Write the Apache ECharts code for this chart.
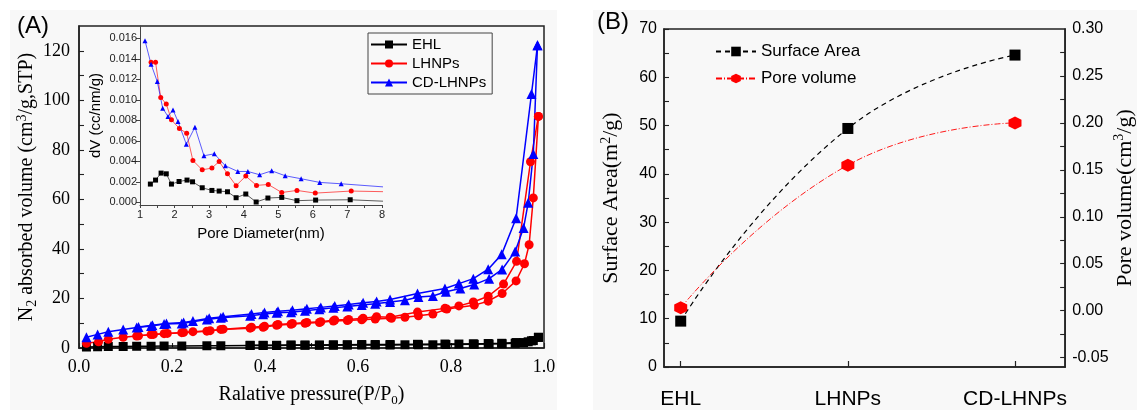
<!DOCTYPE html>
<html lang="en">
<head>
<meta charset="UTF-8">
<title>N2 isotherms and pore data</title>
<style>
  body { margin: 0; background: #fff; }
  #chart { width: 1137px; height: 412px; }
</style>
</head>
<body>
<div id="chart"></div>
<script src="https://cdn.jsdelivr.net/npm/echarts@6/dist/echarts.min.js"></script>
<script>
// ---- (A) main panel: isotherms, [P/P0, volume] ----
var ehlAds = [[0.016,0.4],[0.040,0.5],[0.063,0.6],[0.095,0.6],[0.124,0.7],[0.155,0.7],[0.183,0.8],[0.221,0.8],[0.275,0.9],[0.305,0.9],[0.368,1.0],[0.396,1.0],[0.425,1.0],[0.456,1.1],[0.486,1.1],[0.517,1.1],[0.547,1.1],[0.577,1.2],[0.608,1.2],[0.637,1.2],[0.669,1.2],[0.701,1.3],[0.730,1.3],[0.761,1.3],[0.789,1.4],[0.850,1.5],[0.882,1.6],[0.910,1.7],[0.938,1.9],[0.956,2.2],[0.966,2.5],[0.977,3.0],[0.988,4.3]];
var ehlDes = [[0.988,4.3],[0.973,2.9],[0.940,2.2],[0.909,1.9],[0.880,1.8],[0.848,1.7],[0.817,1.6],[0.787,1.6],[0.728,1.5],[0.669,1.4],[0.637,1.4],[0.608,1.4],[0.577,1.3],[0.547,1.3],[0.517,1.2],[0.486,1.2],[0.456,1.2],[0.425,1.1],[0.396,1.1],[0.368,1.1]];
var lhnpAds = [[0.016,1.9],[0.042,2.5],[0.063,3.5],[0.095,4.3],[0.124,4.8],[0.155,5.4],[0.183,5.8],[0.221,6.2],[0.275,6.8],[0.305,7.5],[0.368,8.0],[0.396,8.4],[0.425,9.2],[0.456,9.6],[0.486,10.0],[0.517,10.3],[0.547,10.9],[0.577,11.1],[0.608,11.4],[0.637,11.7],[0.672,12.0],[0.701,12.4],[0.730,13.0],[0.761,13.7],[0.791,15.7],[0.850,17.3],[0.880,18.9],[0.910,22.0],[0.940,27.1],[0.958,34.0],[0.968,41.7],[0.977,60.6],[0.988,93.5]];
var lhnpDes = [[0.988,93.5],[0.971,75.2],[0.941,35.0],[0.913,25.8],[0.880,20.9],[0.848,18.6],[0.817,17.0],[0.787,16.0],[0.728,14.5],[0.669,12.4],[0.640,12.6],[0.611,12.0],[0.580,11.5],[0.550,11.3],[0.520,10.6],[0.490,10.3],[0.459,9.9],[0.428,9.5],[0.399,8.8],[0.371,8.4],[0.310,7.6],[0.282,7.0],[0.245,6.6],[0.225,6.3],[0.190,5.9],[0.160,5.5],[0.128,4.9]];
var cdAds = [[0.016,4.3],[0.040,5.5],[0.063,6.6],[0.095,7.5],[0.124,8.3],[0.155,8.9],[0.183,9.7],[0.221,9.9],[0.275,11.5],[0.305,12.2],[0.368,13.0],[0.396,13.6],[0.425,14.2],[0.456,14.4],[0.486,15.0],[0.517,15.6],[0.547,16.2],[0.577,16.8],[0.608,17.4],[0.637,17.9],[0.669,18.6],[0.701,19.3],[0.730,20.6],[0.761,21.0],[0.789,22.7],[0.820,24.0],[0.850,25.6],[0.882,28.0],[0.910,31.7],[0.938,39.0],[0.956,48.4],[0.966,58.6],[0.977,78.3],[0.986,122.2]];
var cdDes = [[0.986,122.2],[0.973,102.5],[0.940,52.4],[0.909,37.8],[0.880,31.8],[0.848,28.0],[0.817,26.0],[0.787,24.0],[0.728,22.0],[0.669,19.6],[0.640,18.8],[0.611,18.3],[0.580,17.6],[0.550,17.0],[0.520,16.4],[0.490,15.8],[0.459,15.2],[0.428,14.8],[0.399,14.3],[0.371,13.7],[0.310,12.6],[0.280,12.0],[0.245,10.9],[0.225,10.3],[0.188,9.9],[0.158,9.2],[0.128,8.5]];

// ---- (A) inset: pore size distribution, [diameter nm, dV] ----
var ehlPore = [[1.30,0.00179],[1.45,0.00218],[1.61,0.00286],[1.76,0.00279],[1.91,0.00179],[2.13,0.00204],[2.36,0.00218],[2.52,0.00201],[2.80,0.00143],[3.08,0.00117],[3.29,0.00111],[3.53,0.00104],[3.78,0.00046],[4.06,0.00082],[4.36,0.00004],[4.70,0.00043],[5.10,0.00049],[5.54,0.00017],[6.08,0.00023],[7.08,0.00026],[8.3,0.00008]];
var lhnpPore = [[1.32,0.01366],[1.45,0.01366],[1.60,0.01022],[1.76,0.0096],[1.91,0.00805],[2.14,0.0072],[2.35,0.00675],[2.53,0.00409],[2.80,0.00318],[3.08,0.00335],[3.29,0.00399],[3.53,0.00279],[3.78,0.00163],[4.06,0.00257],[4.37,0.00166],[4.71,0.00175],[5.10,0.00097],[5.54,0.00117],[6.07,0.00091],[7.11,0.00111],[8.3,0.00103]];
var cdPore = [[1.145,0.01577],[1.32,0.01347],[1.50,0.01178],[1.656,0.00919],[1.81,0.00837],[1.955,0.00902],[2.10,0.00788],[2.34,0.00568],[2.59,0.00734],[2.85,0.00455],[3.15,0.00474],[3.47,0.00357],[3.83,0.00302],[4.12,0.00302],[4.46,0.0027],[4.81,0.00308],[5.20,0.0026],[5.66,0.00231],[6.20,0.00195],[6.82,0.00182],[8.3,0.00145]];

// ---- (B) surface area / pore volume ----
var samples = ['EHL', 'LHNPs', 'CD-LHNPs'];
var surfaceArea = [9.5, 49.4, 64.6];
var poreVolume = [0.003, 0.155, 0.200];

// tick values (major + minor)
var pressureTicks = [0, 0.1, 0.2, 0.3, 0.4, 0.5, 0.6, 0.7, 0.8, 0.9, 1.0];
var volumeTicks = [0, 10, 20, 30, 40, 50, 60, 70, 80, 90, 100, 110, 120];
var diameterTicks = [1, 1.5, 2, 2.5, 3, 3.5, 4, 4.5, 5, 5.5, 6, 6.5, 7, 7.5, 8];
var dvLabels = [0, 0.002, 0.004, 0.006, 0.008, 0.010, 0.012, 0.014, 0.016];
var areaTicks = [0, 5, 10, 15, 20, 25, 30, 35, 40, 45, 50, 55, 60, 65, 70];
var poreLabels = [-0.05, 0, 0.05, 0.10, 0.15, 0.20, 0.25, 0.30];
var poreTicks = [-0.05, -0.025, 0, 0.025, 0.05, 0.075, 0.10, 0.125, 0.15, 0.175, 0.20, 0.225, 0.25, 0.275];

var serif = 'Liberation Serif';
var sans = 'Liberation Sans';
var frame = '#222';
var hexagon = 'path://M5,0 L9.33,2.5 L9.33,7.5 L5,10 L0.67,7.5 L0.67,2.5 Z';

function axisBase(ticks, extra) {
  var a = {
    axisLine: { show: true, onZero: false, lineStyle: { color: frame, width: 1.5 } },
    axisTick: { show: true, inside: true, length: 5, customValues: ticks, lineStyle: { color: frame, width: 1.1 } },
    minorTick: { show: false },
    splitLine: { show: false }
  };
  for (var k in extra) a[k] = extra[k];
  return a;
}

function pairs(xs, ys) {
  return xs.map(function (x, i) { return [i, ys[i]]; });
}

function isoSeries(name, data, color, symbol) {
  return {
    type: 'line', name: name, xAxisIndex: 0, yAxisIndex: 0, data: data,
    symbol: symbol, symbolSize: symbol === 'triangle' ? 10 : 9,
    lineStyle: { color: color, width: 1.5 },
    itemStyle: { color: color }
  };
}

function poreSeries(name, data, color, symbol) {
  return {
    type: 'line', name: name, xAxisIndex: 1, yAxisIndex: 1, data: data,
    symbol: symbol, symbolSize: 5, clip: true,
    lineStyle: { color: color, width: 0.8, opacity: 0.8 },
    itemStyle: { color: color }
  };
}

var chart = echarts.init(document.getElementById('chart'));

chart.setOption({
  animation: false,
  backgroundColor: '#fff',
  graphic: [
    { type: 'rect', z: -10, shape: { x: 10, y: 10, width: 547, height: 400 }, style: { fill: '#f8f8f8' } },
    { type: 'rect', z: -10, shape: { x: 593, y: 10, width: 544, height: 400 }, style: { fill: '#f8f8f8' } },
    { type: 'text', left: 17, top: 14, style: { text: '(A)', font: '24px "Liberation Sans"', fill: '#000' } },
    { type: 'text', left: 597, top: 10, style: { text: '(B)', font: '24px "Liberation Sans"', fill: '#000' } }
  ],
  legend: [
    {
      data: ['EHL', 'LHNPs', 'CD-LHNPs'],
      orient: 'vertical', left: 368, top: 33,
      padding: [4, 6, 4, 2], itemGap: 4, itemWidth: 36, itemHeight: 10,
      borderColor: '#444', borderWidth: 1, backgroundColor: '#f8f8f8',
      textStyle: { fontFamily: sans, fontSize: 15, color: '#000' }
    },
    {
      data: ['Surface Area', 'Pore volume'],
      orient: 'vertical', left: 710, top: 38,
      itemGap: 10, itemWidth: 40, itemHeight: 12,
      textStyle: { fontFamily: sans, fontSize: 17, color: '#000' }
    }
  ],
  grid: [
    { left: 79, top: 26, width: 465, height: 322, show: true, borderColor: frame, borderWidth: 1.5, backgroundColor: 'transparent' },
    { left: 140, top: 26, width: 242, height: 179 },
    { left: 664, top: 29, width: 405, height: 338, show: true, borderColor: frame, borderWidth: 1.5, backgroundColor: 'transparent' }
  ],
  xAxis: [
    axisBase(pressureTicks, {
      gridIndex: 0, type: 'value', min: 0, max: 1, interval: 0.2,
      axisLabel: { margin: 10, fontFamily: serif, fontSize: 18, color: '#000', formatter: function (v) { return v.toFixed(1); } },
      name: 'Ralative pressure(P/P{sub|0})', nameLocation: 'middle', nameGap: 34,
      nameTextStyle: { fontFamily: serif, fontSize: 20, color: '#000',
        rich: { sub: { fontFamily: serif, fontSize: 13, verticalAlign: 'top', padding: [12, 0, 0, 0] } } }
    }),
    axisBase(diameterTicks, {
      gridIndex: 1, type: 'value', min: 1, max: 8, interval: 1,
      axisLine: { show: true, onZero: false, lineStyle: { color: '#444', width: 1 } },
      axisTick: { show: true, inside: false, length: 3, customValues: diameterTicks, lineStyle: { color: '#444', width: 1 } },
      axisLabel: { margin: 4, fontFamily: sans, fontSize: 11, color: '#222' },
      name: 'Pore Diameter(nm)', nameLocation: 'middle', nameGap: 21,
      nameTextStyle: { fontFamily: sans, fontSize: 15, color: '#000' }
    }),
    axisBase([0, 1, 2], {
      gridIndex: 2, type: 'value', min: -0.1, max: 2.3,
      axisTick: { show: true, inside: true, length: 6, customValues: [0, 1, 2], lineStyle: { color: frame, width: 1.2 } },
      axisLabel: { margin: 22, fontFamily: sans, fontSize: 21, color: '#000', customValues: [0, 1, 2],
        formatter: function (v) { return samples[Math.round(v)]; } }
    })
  ],
  yAxis: [
    axisBase(volumeTicks, {
      gridIndex: 0, type: 'value', min: 0, max: 130, interval: 20,
      axisLabel: { margin: 9, fontFamily: serif, fontSize: 18, color: '#000', showMaxLabel: false },
      name: 'N{sub|2} absorbed volume (cm{sup|3}/g,STP)', nameLocation: 'middle', nameGap: 31, nameRotate: 90,
      nameTextStyle: { fontFamily: serif, fontSize: 20, color: '#000',
        rich: {
          sub: { fontFamily: serif, fontSize: 14, verticalAlign: 'top', padding: [10, 0, 0, 0] },
          sup: { fontFamily: serif, fontSize: 14, verticalAlign: 'bottom', padding: [0, 0, 10, 0] }
        } }
    }),
    axisBase(dvLabels, {
      gridIndex: 1, type: 'value', min: -0.00025, max: 0.0172,
      axisLine: { show: true, onZero: false, lineStyle: { color: '#444', width: 1 } },
      axisTick: { show: true, inside: false, length: 4, customValues: dvLabels, lineStyle: { color: '#444', width: 1 } },
      axisLabel: { margin: 3, fontFamily: sans, fontSize: 11, color: '#222', customValues: dvLabels,
        formatter: function (v) { return v.toFixed(3); } },
      name: 'dV (cc/nm/g)', nameLocation: 'middle', nameGap: 37, nameRotate: 90,
      nameTextStyle: { fontFamily: sans, fontSize: 15, color: '#000' }
    }),
    axisBase(areaTicks, {
      gridIndex: 2, type: 'value', min: 0, max: 70, interval: 10,
      axisLabel: { margin: 7, fontFamily: sans, fontSize: 16, color: '#000' },
      name: 'Surface Area(m{sup|2}/g)', nameLocation: 'middle', nameGap: 40, nameRotate: 90,
      nameTextStyle: { fontFamily: serif, fontSize: 22, color: '#000',
        rich: { sup: { fontFamily: serif, fontSize: 14, verticalAlign: 'bottom', padding: [0, 0, 11, 0] } } }
    }),
    axisBase(poreTicks, {
      gridIndex: 2, type: 'value', position: 'right', min: -0.06, max: 0.30,
      axisLabel: { margin: 7, fontFamily: sans, fontSize: 16, color: '#000', customValues: poreLabels,
        formatter: function (v) { return v.toFixed(2); } },
      name: 'Pore volume(cm{sup|3}/g)', nameLocation: 'middle', nameGap: 46, nameRotate: 90,
      nameTextStyle: { fontFamily: serif, fontSize: 22, color: '#000',
        rich: { sup: { fontFamily: serif, fontSize: 14, verticalAlign: 'bottom', padding: [0, 0, 11, 0] } } }
    })
  ],
  series: [
    isoSeries('EHL', ehlAds, '#000', 'rect'),
    isoSeries('EHL', ehlDes, '#000', 'rect'),
    isoSeries('LHNPs', lhnpAds, '#ff0000', 'circle'),
    isoSeries('LHNPs', lhnpDes, '#ff0000', 'circle'),
    isoSeries('CD-LHNPs', cdAds, '#0000ff', 'triangle'),
    isoSeries('CD-LHNPs', cdDes, '#0000ff', 'triangle'),
    poreSeries('EHL', ehlPore, '#000', 'rect'),
    poreSeries('LHNPs', lhnpPore, '#ff0000', 'circle'),
    poreSeries('CD-LHNPs', cdPore, '#0000ff', 'triangle'),
    {
      type: 'line', name: 'Surface Area', xAxisIndex: 2, yAxisIndex: 2,
      data: pairs(samples, surfaceArea), smooth: true,
      symbol: 'rect', symbolSize: 11,
      lineStyle: { color: '#000', width: 1.2, type: [5, 4] },
      itemStyle: { color: '#000' }
    },
    {
      type: 'line', name: 'Pore volume', xAxisIndex: 2, yAxisIndex: 3,
      data: pairs(samples, poreVolume), smooth: true,
      symbol: hexagon, symbolSize: 13,
      lineStyle: { color: '#ff0000', width: 0.9, type: [6, 2, 1, 2] },
      itemStyle: { color: '#ff0000' }
    }
  ]
});
</script>
</body>
</html>
